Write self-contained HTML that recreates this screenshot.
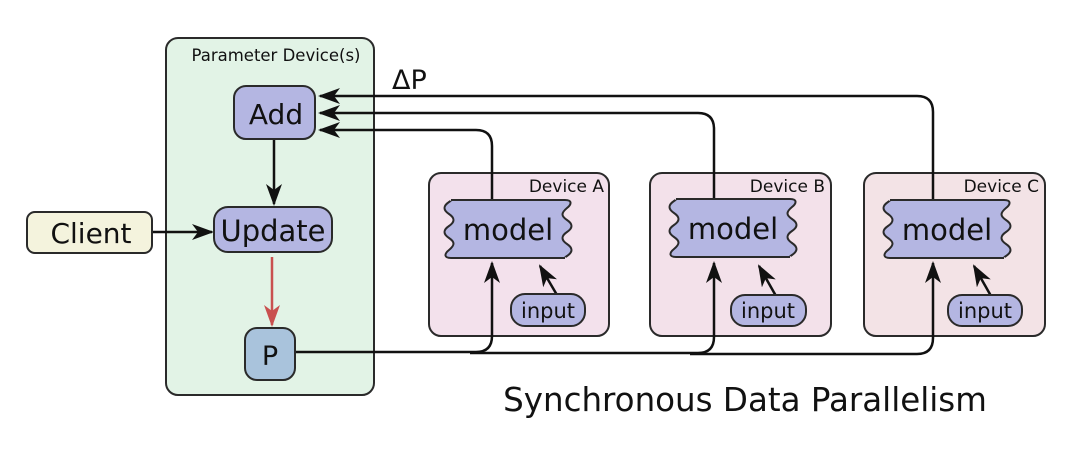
<!DOCTYPE html>
<html><head><meta charset="utf-8"><style>
html,body{margin:0;padding:0;background:#fff}
svg{display:block}
text{font-family:"DejaVu Sans","Liberation Sans",sans-serif;fill:#111}
</style></head><body>
<svg width="1080" height="458" viewBox="0 0 1080 458" xmlns="http://www.w3.org/2000/svg">
<defs>
<marker id="ar" viewBox="0 0 22 16" refX="20" refY="8" markerWidth="22" markerHeight="16" markerUnits="userSpaceOnUse" orient="auto">
<path d="M0,0 L22,8 L0,16 L6,8 Z" fill="#111"/></marker>
<marker id="arr" viewBox="0 0 22 16" refX="20" refY="8" markerWidth="22" markerHeight="16" markerUnits="userSpaceOnUse" orient="auto">
<path d="M0,0 L22,8 L0,16 L6,8 Z" fill="#c9504f"/></marker>
<path id="wm" d="M6,0 H120 c7,0 7,4 2,8 c-6,5 -6,8 0,12 c6,4 6,8 0,12 c-6,4 -6,8 0,12 c6,4 6,8 0,12 c-3,2 -2,2 -2,2 H6 c-7,0 -7,-4 -2,-8 c6,-5 6,-8 0,-12 c-6,-4 -6,-8 0,-12 c6,-4 6,-8 0,-12 c-6,-4 -6,-8 0,-12 c3,-2 2,-2 2,-2 Z"/>
</defs>
<rect x="166" y="38" width="208" height="357" rx="12" fill="#e2f3e6" stroke="#2a2a2a" stroke-width="2"/>
<text x="276" y="61" font-size="16.5" text-anchor="middle">Parameter Device(s)</text>
<rect x="429" y="173" width="180" height="163" rx="12" fill="#f3e1ec" stroke="#2a2a2a" stroke-width="2"/>
<rect x="650" y="173" width="181" height="163" rx="12" fill="#f3e1ea" stroke="#2a2a2a" stroke-width="2"/>
<rect x="864" y="173" width="181" height="163" rx="12" fill="#f3e3e6" stroke="#2a2a2a" stroke-width="2"/>
<text x="604" y="192" font-size="17" text-anchor="end">Device A</text>
<text x="825" y="192" font-size="17" text-anchor="end">Device B</text>
<text x="1039" y="192" font-size="17" text-anchor="end">Device C</text>
<g fill="none" stroke="#111" stroke-width="2.5">
<path d="M933,200 V112 Q933,96 917,96 H320" marker-end="url(#ar)"/>
<path d="M714,199 V129 Q714,113 698,113 H320" marker-end="url(#ar)"/>
<path d="M492,200 V146 Q492,130 476,130 H320" marker-end="url(#ar)"/>
<path d="M274,140 V204" marker-end="url(#ar)"/>
<path d="M153,232 H212" marker-end="url(#ar)"/>
<path d="M295,352 H476 Q492,352 492,336 V263" marker-end="url(#ar)"/>
<path d="M470,353 H698 Q714,353 714,337 V263" marker-end="url(#ar)"/>
<path d="M690,354 H917 Q933,354 933,338 V263" marker-end="url(#ar)"/>
<path d="M557,295 L540,266" marker-end="url(#ar)"/>
<path d="M776,296 L759,266" marker-end="url(#ar)"/>
<path d="M991,296 L974,266" marker-end="url(#ar)"/>
</g>
<path d="M272,257 V325" stroke="#c9504f" stroke-width="2.5" fill="none" marker-end="url(#arr)"/>
<rect x="27" y="212" width="125" height="41" rx="8" fill="#f4f3dd" stroke="#2a2a2a" stroke-width="2"/>
<text x="91" y="243" font-size="28" text-anchor="middle">Client</text>
<rect x="234" y="86" width="81" height="53" rx="12" fill="#b4b6e2" stroke="#2a2a2a" stroke-width="2"/>
<text x="276" y="124" font-size="28" text-anchor="middle">Add</text>
<rect x="214" y="207" width="118" height="45" rx="14" fill="#b4b6e2" stroke="#2a2a2a" stroke-width="2"/>
<text x="273" y="241" font-size="29" text-anchor="middle">Update</text>
<rect x="245" y="328" width="50" height="52" rx="12" fill="#a9c3dc" stroke="#2a2a2a" stroke-width="2"/>
<text x="270" y="365" font-size="27" text-anchor="middle">P</text>
<g fill="#b4b6e2" stroke="#2a2a2a" stroke-width="2">
<use href="#wm" transform="translate(445,200)"/>
<use href="#wm" transform="translate(670,199)"/>
<use href="#wm" transform="translate(884,200)"/>
<rect x="511" y="294" width="74" height="32" rx="14"/>
<rect x="731" y="295" width="75" height="31" rx="14"/>
<rect x="948" y="295" width="74" height="31" rx="14"/>
</g>
<text x="508" y="240" font-size="29" text-anchor="middle">model</text>
<text x="733" y="239" font-size="29" text-anchor="middle">model</text>
<text x="947" y="240" font-size="29" text-anchor="middle">model</text>
<text x="548" y="318" font-size="21" text-anchor="middle">input</text>
<text x="768" y="318" font-size="21" text-anchor="middle">input</text>
<text x="985" y="318" font-size="21" text-anchor="middle">input</text>
<text x="392" y="89" font-size="27">ΔP</text>
<text x="745" y="411" font-size="32.5" text-anchor="middle">Synchronous Data Parallelism</text>
</svg>
</body></html>
